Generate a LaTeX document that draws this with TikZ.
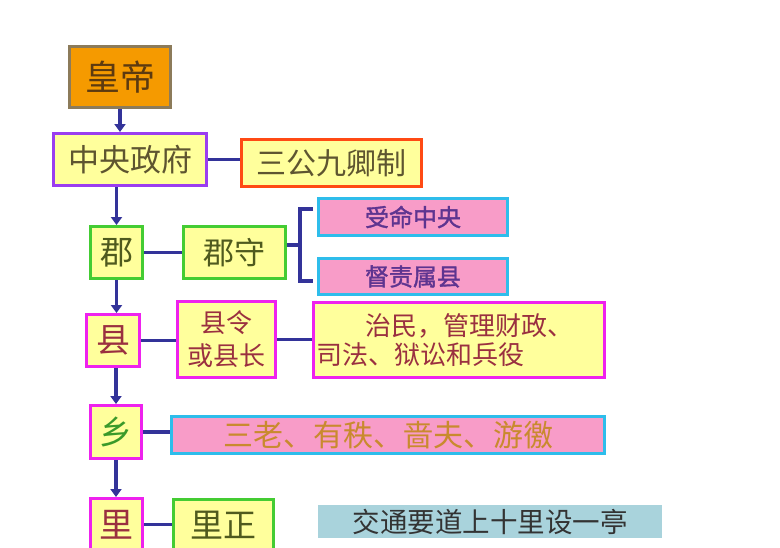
\documentclass[tikz,border=0pt]{standalone}
\usepackage{fontspec}
\newfontfamily\cjk{Noto Sans CJK SC}
\newfontfamily\cjkb[FakeBold=1.5]{Noto Sans CJK SC}
\usetikzlibrary{arrows.meta}
\usepackage{xcolor}
\definecolor{boxfill}{HTML}{FFFF9C}
\definecolor{pinkfill}{HTML}{F89CC8}
\definecolor{empfill}{HTML}{F59A00}
\definecolor{empline}{HTML}{8C7B5A}
\definecolor{noteblue}{HTML}{A9D3DC}
\definecolor{linkblue}{HTML}{333399}
\definecolor{purpleline}{HTML}{9A3DF0}
\definecolor{greenline}{HTML}{44CC33}
\definecolor{magline}{HTML}{EE22EE}
\definecolor{cyanline}{HTML}{2EBDEB}
\definecolor{redline}{HTML}{FF4A14}
\definecolor{emptext}{HTML}{5C3A10}
\definecolor{olivetext}{HTML}{5E5530}
\definecolor{greentext}{HTML}{4F5A1E}
\definecolor{redtext}{HTML}{9A3040}
\definecolor{leaftext}{HTML}{3A9A2A}
\definecolor{violettext}{HTML}{5E3490}
\definecolor{orangetext}{HTML}{C98A2E}
\definecolor{graytext}{HTML}{333333}
\newcommand\cfs[2]{\fontsize{#1}{#2}\selectfont}
\tikzset{
  box/.style={rectangle, draw, line width=3pt, fill=boxfill, inner sep=0pt},
  pinkbox/.style={box, draw=cyanline, fill=pinkfill},
  link/.style={line width=3.5pt, draw=linkblue},
  down/.style={link, -{Triangle[width=11pt,length=8pt]}},
}

\begin{document}
\begin{tikzpicture}[x=1pt, y=-1pt, font=\cjk]
  \useasboundingbox (0,0) rectangle (780,547);

  % main chain
  \node[box, draw=empline, fill=empfill, minimum width=101pt, minimum height=61pt, text=emptext, font=\cjk\cfs{35}{37}] (huangdi) at (120,77) {皇帝};
  \node[box, draw=purpleline, minimum width=153pt, minimum height=52pt, text=olivetext, font=\cjk\cfs{31}{33}] (zhongyang) at (130,159.5) {中央政府};
  \node[box, draw=greenline, minimum width=52pt, minimum height=52pt, text=greentext, font=\cjk\cfs{33}{35}] (jun) at (116.5,252.5) {郡};
  \node[box, draw=magline, minimum width=53pt, minimum height=52pt, text=redtext, font=\cjk\cfs{34}{36}] (xian) at (113,340.5) {县};
  \node[box, draw=magline, minimum width=51pt, minimum height=53pt, text=leaftext, font=\cjk\cfs{33}{35}] (xiang) at (116,432) {乡};
  \node[box, draw=magline, minimum width=52pt, minimum height=52pt, text=redtext, font=\cjk\cfs{34}{36}] (li) at (116.5,524.5) {里};

  % officials and duties
  \node[box, draw=redline, minimum width=180pt, minimum height=47pt, text=olivetext, font=\cjk\cfs{30}{32}] (sangong) at (331.5,163) {三公九卿制};
  \node[box, draw=greenline, minimum width=102pt, minimum height=52pt, text=greentext, font=\cjk\cfs{31}{33}] (junshou) at (234.5,252.5) {郡守};
  \node[pinkbox, minimum width=189pt, minimum height=37pt, text=violettext, font=\cjkb\cfs{24}{26}] (shouming) at (413,217) {受命中央};
  \node[pinkbox, minimum width=189pt, minimum height=36pt, text=violettext, font=\cjkb\cfs{24}{26}] (duze) at (413,276.5) {督责属县};
  \node[box, draw=magline, minimum width=98pt, minimum height=76pt, text=redtext, align=center, font=\cjk\cfs{26}{33}] (xianling) at (226.5,339.5) {县令\\或县长};
  \node[box, draw=magline, minimum width=291pt, minimum height=75pt, text width=285pt, text=redtext, align=left, font=\cjk\cfs{26}{29}] (zhimin) at (459,340) {\hspace{1.9em}治民，管理财政、\\司法、狱讼和兵役};
  \node[pinkbox, minimum width=433pt, minimum height=37pt, text=orangetext, font=\cjk\cfs{30}{32}] (sanlao) at (388,435) {三老、有秩、啬夫、游徼};
  \node[box, draw=greenline, minimum width=100pt, minimum height=52pt, text=greentext, font=\cjk\cfs{33}{35}] (lizheng) at (223.5,525.5) {里正};
  \node[rectangle, fill=noteblue, minimum width=344pt, minimum height=33pt, inner sep=0pt, text=graytext, font=\cjk\cfs{27.5}{29}] (jiaotong) at (490,521.5) {交通要道上十里设一亭};

  % downward arrows
  \draw[down] (huangdi.south) -- (huangdi.south |- zhongyang.north);
  \draw[down] (jun.north |- zhongyang.south) -- (jun.north);
  \draw[down] (jun.south) -- (jun.south |- xian.north);
  \draw[down] (xiang.north |- xian.south) -- (xiang.north);
  \draw[down] (xiang.south) -- (xiang.south |- li.north);

  % side links
  \draw[link] (zhongyang.east) -- (zhongyang.east -| sangong.west);
  \draw[link] (jun.east) -- (jun.east -| junshou.west);
  \coordinate (brk) at (300,245);
  \draw[link] (junshou.east |- brk) -- (brk);
  \draw[link] (313,209) -| (300,281) -- (313,281);
  \draw[link] (xian.east) -- (xian.east -| xianling.west);
  \draw[link] (xianling.east) -- (xianling.east -| zhimin.west);
  \draw[link] (xiang.east) -- (xiang.east -| sanlao.west);
  \draw[link] (li.east) -- (li.east -| lizheng.west);
\end{tikzpicture}
\end{document}
